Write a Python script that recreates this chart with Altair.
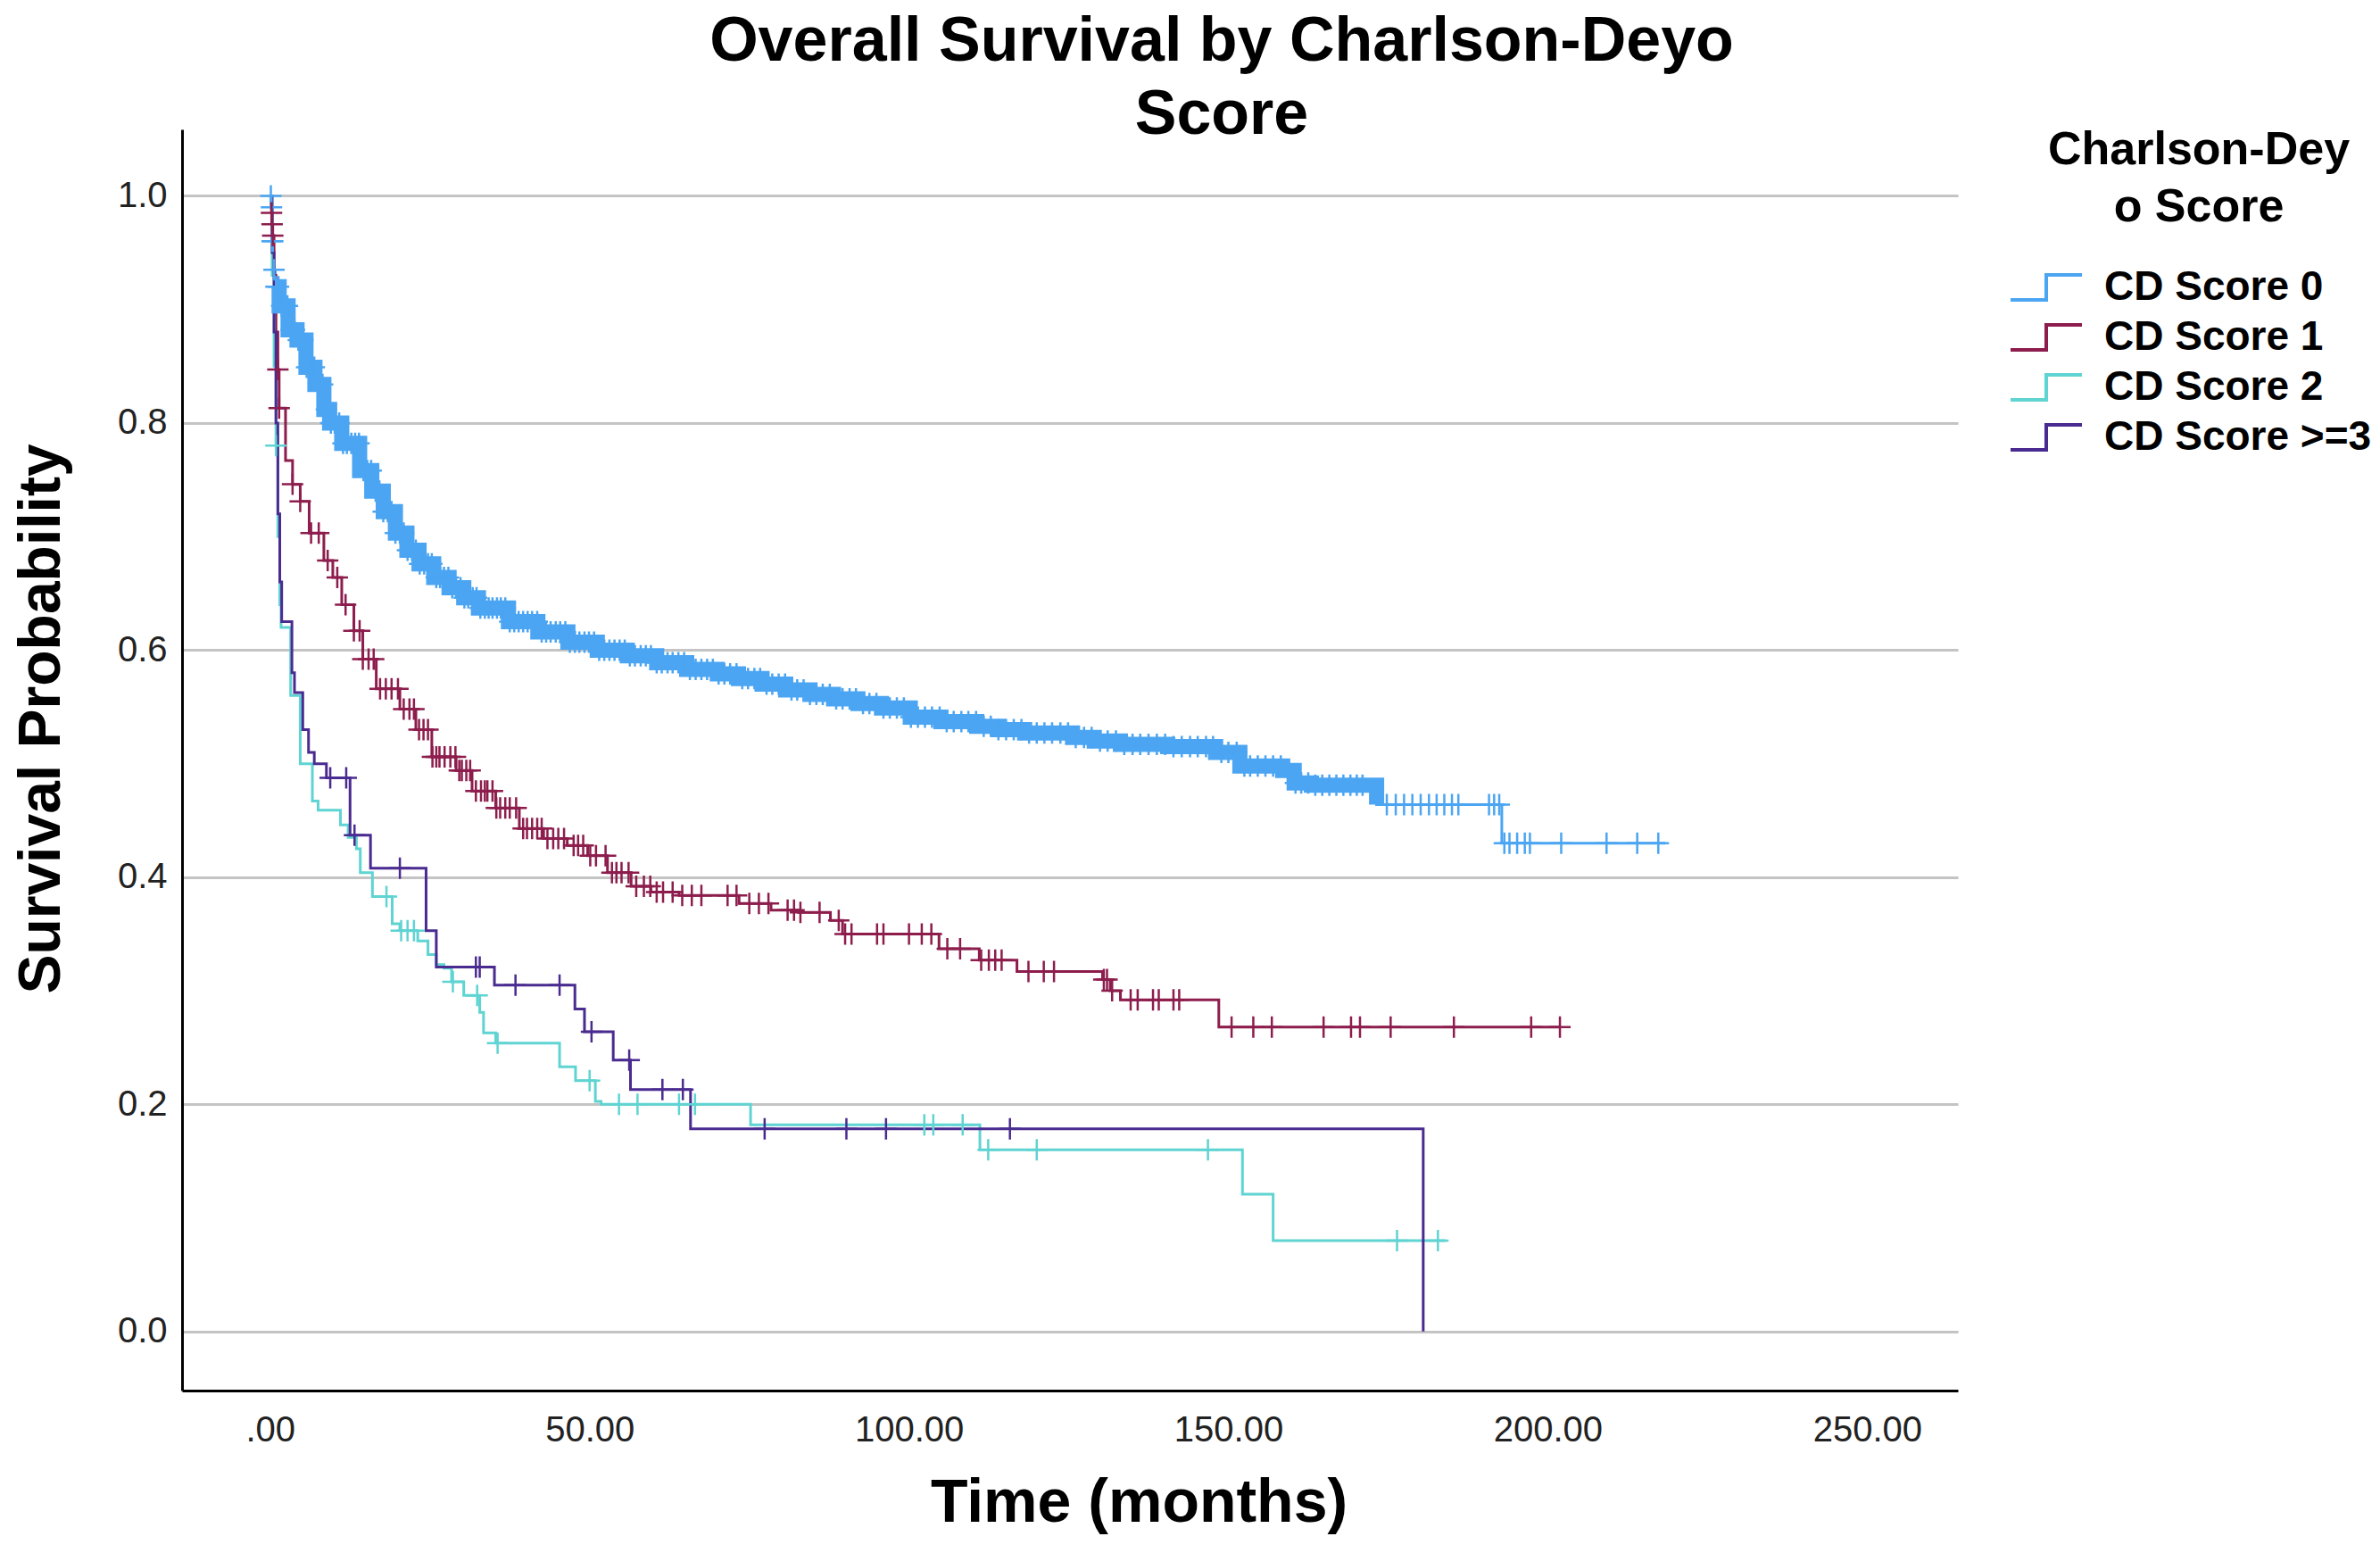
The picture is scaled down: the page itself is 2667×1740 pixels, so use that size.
import altair as alt
import pandas as pd
import numpy as np

FONT = "Liberation Sans, Arial, sans-serif"

groups = ["CD Score 0", "CD Score 1", "CD Score 2", "CD Score >=3"]
colors = ["#4ba5f2", "#8d1d4d", "#5fd4d2", "#4a2b90"]

# ---- Kaplan-Meier step curves (time in months, survival probability) ----
cd0_t = [0, 0.15, 0.3, 0.5, 0.8, 1.4, 2.8, 4.2, 5.6, 7.0, 8.4, 9.3, 11.2, 14.0, 15.9, 17.7,
         19.6, 21.4, 23.3, 25.6, 28.0, 30.3, 32.6, 37.3, 41.9, 46.6, 51.2, 55.9, 60.5, 65.2,
         70.0, 73.3, 77.0, 80.7, 84.5, 88.2, 92.0, 95.7, 100.2, 105.0, 110.6, 114.0, 118.1,
         125.6, 129.0, 133.1, 140.5, 148.0, 151.8, 158.5, 160.3, 163.0, 173.2, 192.8, 218.4]
cd0_s = [1.0, 0.99, 0.96, 0.935, 0.92, 0.903, 0.882, 0.873, 0.849, 0.834, 0.812, 0.80, 0.782,
         0.758, 0.74, 0.722, 0.703, 0.688, 0.676, 0.664, 0.655, 0.646, 0.637, 0.625, 0.616,
         0.607, 0.60, 0.595, 0.589, 0.583, 0.579, 0.575, 0.57, 0.565, 0.561, 0.557, 0.553,
         0.549, 0.541, 0.537, 0.533, 0.53, 0.527, 0.523, 0.52, 0.517, 0.515, 0.51, 0.498,
         0.494, 0.483, 0.481, 0.464, 0.43, 0.43]

cd1_t = [0, 0.2, 0.3, 0.4, 0.6, 0.9, 1.2, 1.4, 2.4, 3.5, 4.7, 6.1, 8.4, 9.8, 11.2, 13.1, 14.5,
         16.6, 20.3, 22.8, 25.3, 29.1, 31.6, 35.3, 39.0, 42.8, 46.5, 49.7, 52.8, 56.5, 59.6,
         64.0, 73.4, 78.4, 82.7, 87.7, 89.6, 104.7, 111.0, 116.9, 130.3, 131.5, 133.1, 148.5,
         202.0]
cd1_s = [1.0, 0.985, 0.975, 0.965, 0.93, 0.88, 0.847, 0.813, 0.767, 0.746, 0.731, 0.703,
         0.679, 0.664, 0.64, 0.617, 0.592, 0.566, 0.548, 0.53, 0.506, 0.494, 0.476, 0.461,
         0.443, 0.434, 0.428, 0.419, 0.404, 0.392, 0.387, 0.384, 0.377, 0.371, 0.369, 0.362,
         0.35, 0.337, 0.327, 0.317, 0.31, 0.30, 0.292, 0.268, 0.268]

cd2_t = [0, 0.3, 0.6, 0.9, 1.2, 1.5, 1.7, 3.2, 4.7, 6.6, 7.5, 11.0, 12.2, 13.5, 14.1, 16.0,
         19.1, 20.3, 23.1, 24.7, 26.0, 27.2, 28.4, 30.3, 32.8, 33.4, 35.3, 45.3, 47.8, 50.9,
         51.8, 75.2, 111.1, 152.2, 157.0, 184.0]
cd2_s = [1.0, 0.93, 0.85, 0.78, 0.70, 0.64, 0.62, 0.56, 0.50, 0.467, 0.459, 0.446, 0.435,
         0.425, 0.404, 0.383, 0.359, 0.353, 0.344, 0.332, 0.323, 0.32, 0.308, 0.296, 0.281,
         0.263, 0.254, 0.233, 0.221, 0.2027, 0.20, 0.182, 0.16, 0.121, 0.08, 0.08]

cd3_t = [0, 0.3, 0.6, 0.9, 1.2, 1.5, 1.8, 3.4, 3.8, 5.1, 6.0, 6.9, 8.8, 12.5, 15.7, 24.4,
         26.0, 35.1, 47.7, 49.2, 53.7, 56.4, 65.8, 180.5]
cd3_s = [1.0, 0.95, 0.88, 0.80, 0.72, 0.66, 0.625, 0.58, 0.5625, 0.53, 0.51, 0.50, 0.4875,
         0.437, 0.408, 0.353, 0.321, 0.305, 0.284, 0.264, 0.239, 0.213, 0.1785, 0.0]

# ---- censored observations (months) ----
cd0_cens = [0.1, 0.2, 0.3, 0.4, 0.6, 0.9, 1.3, 1.8, 2.2, 2.7, 3.3, 3.8, 4.4, 5.1, 5.7, 6.3,
            6.9, 7.6, 8.2, 8.8, 9.5, 10.1, 10.8, 11.4, 12.0, 12.7, 13.3, 13.9, 14.6, 15.2,
            15.8, 16.5, 17.1, 17.7, 18.4, 19.0, 19.6, 20.3, 20.9, 21.5, 22.2, 22.8, 23.4,
            24.1, 24.7, 25.3, 26.0, 26.6, 27.2, 27.9, 28.5, 29.1, 29.8, 30.4, 31.0, 31.7,
            32.3, 32.9, 33.6, 34.2, 34.8, 35.5, 36.1, 36.8, 37.5, 38.2, 38.9, 39.6, 40.3,
            41.0, 41.8, 42.5, 43.2, 43.9, 44.7, 45.4, 46.2, 46.9, 47.7, 48.4, 49.2, 49.9,
            50.7, 51.5, 52.3, 53.1, 53.9, 54.7, 55.5, 56.3, 57.1, 58.0, 58.8, 59.6, 60.5,
            61.3, 62.2, 63.0, 63.9, 64.8, 65.7, 66.6, 67.5, 68.4, 69.3, 70.2, 71.1, 72.0,
            73.0, 73.9, 74.8, 75.8, 76.7, 77.7, 78.6, 79.6, 80.6, 81.6, 82.5, 83.5, 84.5,
            85.5, 86.5, 87.6, 88.6, 89.6, 90.7, 91.7, 92.8, 93.8, 94.9, 96.0, 97.0, 98.1,
            99.2, 100.3, 101.4, 102.5, 103.6, 104.8, 105.9, 107.0, 108.2, 109.3, 110.5,
            111.7, 112.8, 114.0, 115.2, 116.4, 117.6, 118.8, 120.0, 121.2, 122.4, 123.7,
            124.9, 126.1, 127.4, 128.6, 129.9, 131.1, 132.4, 133.7, 135.0, 136.2, 137.5,
            138.8, 140.1, 141.4, 142.7, 144.0, 145.2, 146.5, 147.6, 148.9, 150.0, 151.3,
            152.5, 153.4, 154.6, 155.8, 157.0, 158.2, 159.3, 160.5, 161.4, 162.5, 163.6,
            164.7, 165.8, 166.9, 168.0, 169.1, 170.1, 171.0, 174.8, 176.2, 177.5, 178.8,
            180.1, 181.4, 182.6, 183.8, 185.0, 186.0, 190.8, 191.6, 192.4, 193.2, 194.0,
            195.2, 196.4, 197.2, 202.1, 209.2, 214.0, 217.3]
cd1_cens = [0.2, 0.3, 0.4, 1.2, 1.4, 3.5, 4.7, 6.4, 7.6, 9.0, 10.5, 11.8, 13.1, 14.0, 14.5,
            15.4, 16.2, 17.2, 18.1, 19.0, 20.0, 20.9, 21.8, 22.5, 23.3, 24.0, 24.7, 25.4,
            26.0, 26.5, 27.3, 28.2, 29.0, 29.6, 30.0, 30.7, 31.3, 32.2, 33.0, 33.6, 34.0,
            34.8, 35.4, 36.0, 36.8, 37.5, 38.5, 39.6, 40.2, 41.0, 41.8, 42.5, 43.4, 44.3,
            45.1, 46.0, 47.5, 48.2, 49.0, 50.1, 51.0, 52.5, 53.5, 54.2, 55.0, 56.1, 57.3,
            58.5, 59.5, 60.5, 61.5, 63.0, 64.5, 66.0, 67.5, 71.6, 73.0, 75.0, 76.5, 78.0,
            81.0, 82.0, 83.0, 86.0, 89.0, 90.0, 91.0, 95.0, 96.0, 100.0, 102.0, 103.5, 106.0,
            108.0, 111.3, 112.5, 113.5, 114.5, 118.7, 121.1, 122.7, 130.5, 131.0, 131.8,
            134.7, 135.8, 138.2, 139.1, 141.4, 142.3, 150.5, 153.9, 156.8, 164.9, 169.2,
            170.6, 175.4, 185.3, 197.4, 201.9]
cd2_cens = [0.9, 18.2, 20.5, 21.5, 22.5, 28.6, 32.4, 35.6, 50.0, 54.6, 57.5, 64.0, 66.5,
            102.4, 103.8, 108.4, 112.4, 120.0, 146.8, 176.4, 182.8]
cd3_cens = [9.4, 11.9, 13.2, 20.3, 32.2, 32.8, 38.4, 45.3, 50.3, 56.2, 61.4, 64.6, 77.4,
            90.2, 96.4, 115.8]

x_ticks = [0, 50, 100, 150, 200, 250]
y_ticks = [0.0, 0.2, 0.4, 0.6, 0.8, 1.0]

series = [(cd0_t, cd0_s, cd0_cens), (cd1_t, cd1_s, cd1_cens),
          (cd2_t, cd2_s, cd2_cens), (cd3_t, cd3_s, cd3_cens)]

line_rows, cens_rows = [], []
for g, col, (ts, ss, cs) in zip(groups, colors, series):
    for t, s in zip(ts, ss):
        line_rows.append({"t": t, "S": s, "group": g})
    ta = np.array(ts)
    for c in cs:
        i = int(np.searchsorted(ta, c, side="right")) - 1
        cens_rows.append({"t": c, "S": ss[i], "group": g, "col": col})
line_df = pd.DataFrame(line_rows)
cens_df = pd.DataFrame(cens_rows)

x_scale = alt.Scale(domain=[-13.8, 264.2], nice=False, zero=False)
y_scale = alt.Scale(domain=[-0.052, 1.0585], nice=False, zero=False)

x_axis = alt.Axis(values=x_ticks, labelExpr="datum.value == 0 ? '.00' : format(datum.value, '.2f')",
                  grid=False, ticks=False, tickSize=0, labelFont=FONT, labelFontSize=40,
                  labelColor="#222222", labelPadding=44, labelBaseline="middle",
                  domainColor="#000000", domainWidth=3, title="Time (months)",
                  titleFont=FONT, titleFontSize=68, titleFontWeight="bold", titleColor="#000000",
                  titleX=1072, titleY=126, titleBaseline="middle", titleAlign="center")
y_axis = alt.Axis(values=y_ticks, format=".1f", grid=True, gridColor="#c4c4c4", gridWidth=3,
                  ticks=False, tickSize=0, labelFont=FONT, labelFontSize=40, labelColor="#222222",
                  labelPadding=17, domainColor="#000000", domainWidth=3,
                  title="Survival Probability", titleFont=FONT, titleFontSize=66,
                  titleFontWeight="bold", titleColor="#000000", titleAngle=-90,
                  titleX=-158, titleY=660, titleBaseline="middle", titleAlign="center")

STEP = "M-2,0.7L0,0.7L0,-0.7L2,-0.7"
CROSS = "M-1,0L1,0M0,-1L0,1"

legend = alt.Legend(title=["Charlson-Dey", "o Score"], orient="none", legendX=2066, legendY=-2,
                    titleFont=FONT, titleFontSize=52, titleFontWeight="bold", titleColor="#000000",
                    titleLineHeight=64, titleAnchor="middle", titleAlign="center", titlePadding=40,
                    titleLimit=900,
                    labelFont=FONT, labelFontSize=46, labelFontWeight="bold", labelColor="#000000",
                    labelOffset=42, rowPadding=10, symbolType=STEP, symbolSize=1600,
                    symbolStrokeWidth=4, symbolFillColor="transparent", padding=0, labelLimit=600)

color_scale = alt.Scale(domain=groups, range=colors)

# dense censoring of the CD Score 0 curve renders as a thick band in the original
band = alt.Chart(line_df).transform_filter(
    "datum.group == 'CD Score 0' && datum.t >= 0.8 && datum.t <= 173.2"
).mark_line(interpolate="step-after", strokeWidth=17, strokeJoin="miter").encode(
    x=alt.X("t:Q", scale=x_scale),
    y=alt.Y("S:Q", scale=y_scale),
    color=alt.value(colors[0]),
)

lines = alt.Chart(line_df).mark_line(interpolate="step-after", strokeWidth=3).encode(
    x=alt.X("t:Q", scale=x_scale, axis=x_axis),
    y=alt.Y("S:Q", scale=y_scale, axis=y_axis),
    color=alt.Color("group:N", scale=color_scale, legend=legend),
)

marks = alt.Chart(cens_df).mark_point(shape=CROSS, filled=False, size=576, strokeWidth=2.5,
                                      opacity=1).encode(
    x=alt.X("t:Q", scale=x_scale),
    y=alt.Y("S:Q", scale=y_scale),
    color=alt.Color("col:N", scale=None),
)

chart = alt.layer(lines, band, marks).properties(
    width=1990, height=1413,
    autosize=alt.AutoSizeParams(type="none"),
    padding={"left": 196, "top": 137, "right": 465, "bottom": 174},
    title=alt.TitleParams(text=["Overall Survival by Charlson-Deyo", "Score"], font=FONT,
                          fontSize=70, fontWeight="bold", color="#000000", lineHeight=82,
                          anchor="middle", frame="group", dx=170, dy=22, offset=0),
    background="white",
).configure_view(stroke=None)

chart.save("out.html", embed_options={"renderer": "svg", "actions": False})
